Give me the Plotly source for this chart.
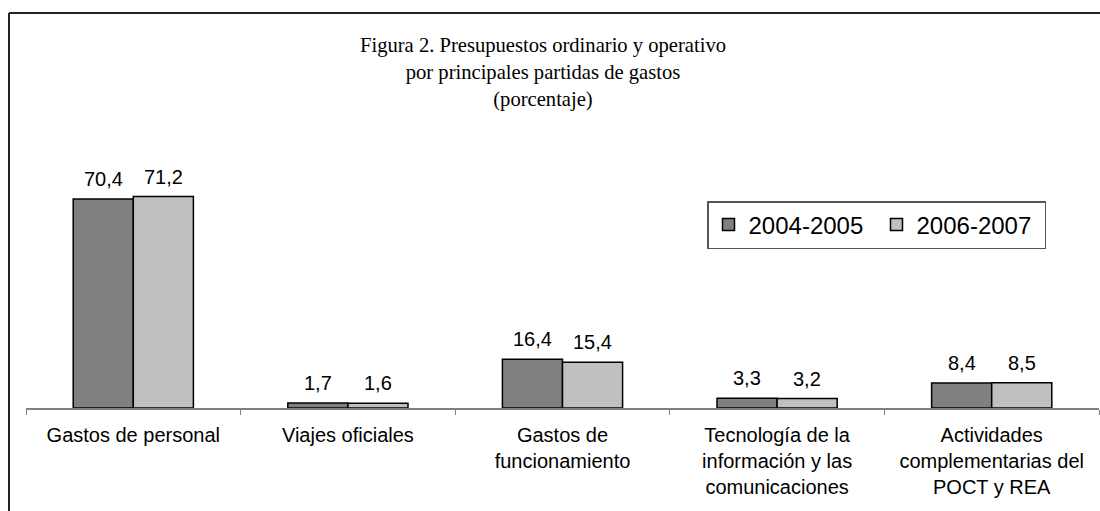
import plotly.graph_objects as go

categories = ["Gastos de personal", "Viajes oficiales", "Gastos de<br>funcionamiento",
              "Tecnología de la<br>información y las<br>comunicaciones",
              "Actividades<br>complementarias del<br>POCT y REA"]
series_names = ["2004-2005", "2006-2007"]
values_2004 = [70.4, 1.7, 16.4, 3.3, 8.4]
values_2006 = [71.2, 1.6, 15.4, 3.2, 8.5]
labels_2004 = ["70,4", "1,7", "16,4", "3,3", "8,4"]
labels_2006 = ["71,2", "1,6", "15,4", "3,2", "8,5"]
colors = ["#808080", "#C0C0C0"]

W, H = 1100, 511
OFF = 0  # body margin removed by post_script
plot_left, plot_right, plot_top, plot_base = 26 - OFF, 1099 - OFF, 100 - OFF, 408 - OFF
L, R, T, B = plot_left, W - plot_right, plot_top, H - plot_base
plot_w = W - L - R
plot_h = H - T - B
px_per_unit = 2.97
ymax = plot_h / px_per_unit

fig = go.Figure()
for name, vals, col in zip(series_names, [values_2004, values_2006], colors):
    fig.add_trace(go.Bar(
        x=categories, y=vals, name=name,
        marker=dict(color=col, line=dict(color="black", width=1.5)),
        hoverinfo="skip",
    ))

annotations = []
for shift, labs, vals in [(-30, labels_2004, values_2004), (30, labels_2006, values_2006)]:
    for c, lab, v in zip(categories, labs, vals):
        annotations.append(dict(
            x=c, y=v, xref="x", yref="y", text=lab, showarrow=False,
            xshift=shift, yshift=7, yanchor="bottom",
            font=dict(family="Liberation Sans, Arial", size=20, color="black"),
        ))

def px_x(p):
    return (p - OFF - L) / plot_w

def px_y(p):
    return (H - B - (p - OFF)) / plot_h

border = dict(color="#222222", width=2)

fig.update_layout(
    width=W, height=H,
    margin=dict(l=L, r=R, t=T, b=B, autoexpand=False),
    paper_bgcolor="white", plot_bgcolor="white",
    barmode="group", bargap=0.44, bargroupgap=0,
    title=dict(
        text="Figura 2. Presupuestos ordinario y operativo<br>por principales partidas de gastos<br>(porcentaje)",
        x=(543 - OFF) / W, xanchor="center", xref="container",
        y=1 - (52 - OFF) / H, yanchor="top", yref="container",
        font=dict(family="Liberation Serif, Times New Roman", size=20.6, color="black"),
        automargin=False,
    ),
    showlegend=True,
    legend=dict(
        orientation="h",
        x=px_x(707), y=px_y(201), xanchor="left", yanchor="top",
        bgcolor="white", bordercolor="#555555", borderwidth=1.5,
        font=dict(family="Liberation Sans, Arial", size=24, color="black"),
        traceorder="normal", entrywidth=123,
    ),
    xaxis=dict(
        type="category", range=[-0.5, 4.5], automargin=False,
        showline=True, linecolor="#808080", linewidth=1.5,
        ticks="outside", tickson="boundaries", ticklen=5, tickcolor="#808080", tickwidth=1,
        ticklabelstandoff=8,
        showgrid=False, zeroline=False,
        tickfont=dict(family="Liberation Sans, Arial", size=20, color="black"),
    ),
    yaxis=dict(visible=False, range=[0, ymax], fixedrange=True),
    annotations=annotations,
    shapes=[
        dict(type="line", xref="paper", yref="paper",
             x0=px_x(9), x1=px_x(9), y0=px_y(560), y1=px_y(13), line=border, layer="above"),
        dict(type="line", xref="paper", yref="paper",
             x0=px_x(9), x1=px_x(1200), y0=px_y(13), y1=px_y(13), line=border, layer="above"),
    ],
)

fig.write_html(
    "out.html",
    config={"displayModeBar": False},
    post_script="document.body.style.margin='0';document.body.style.overflow='hidden';",
)
